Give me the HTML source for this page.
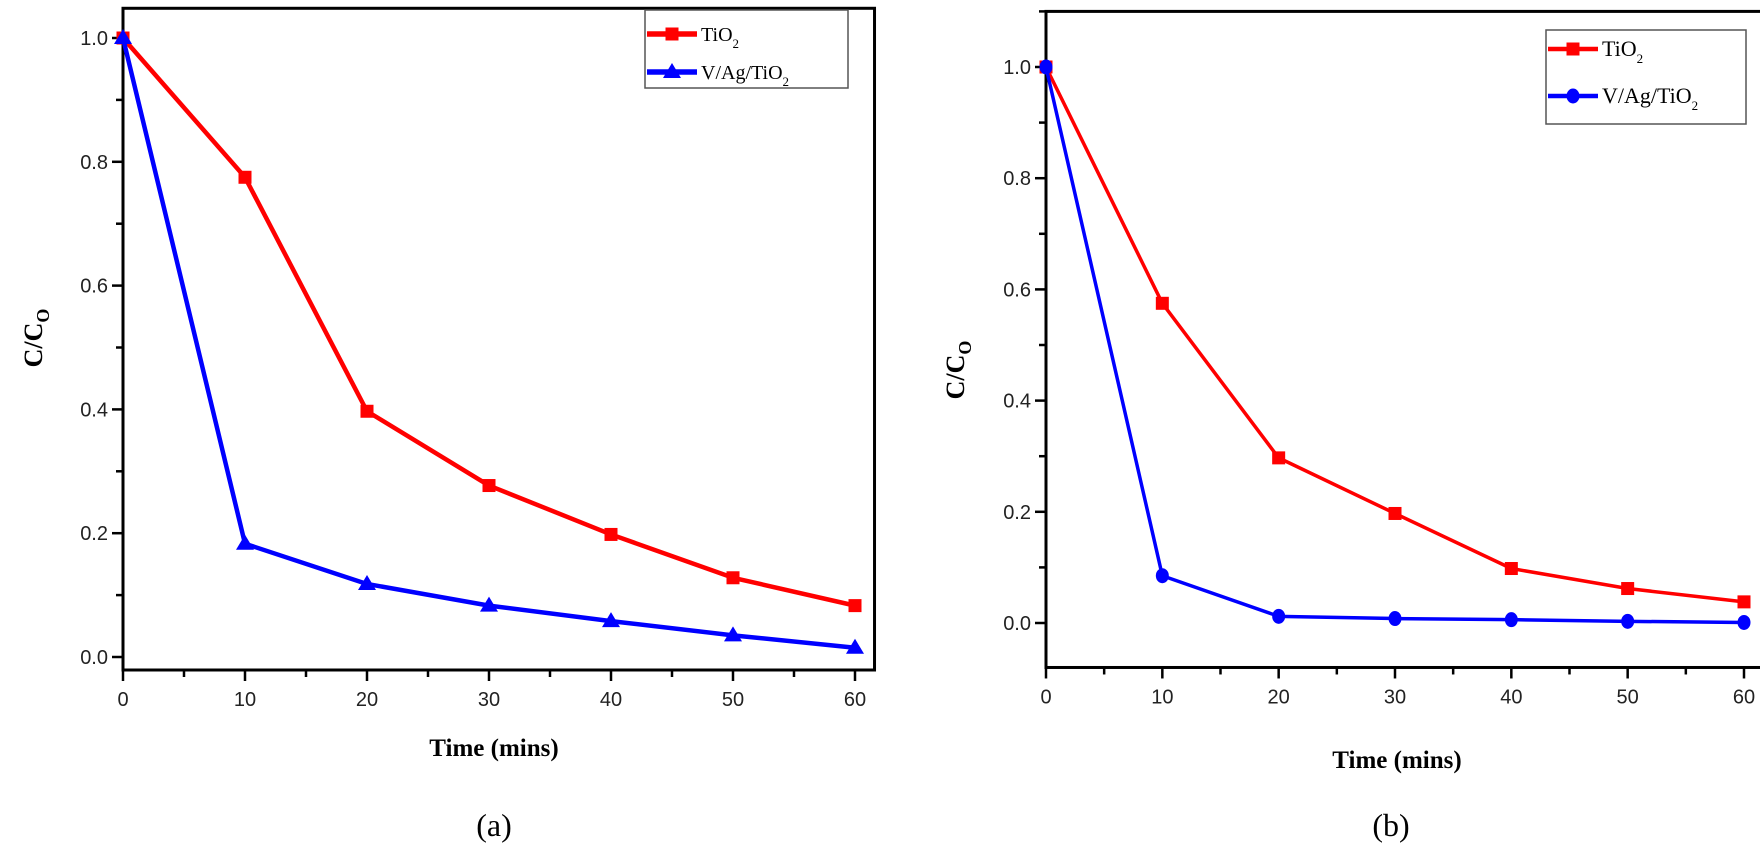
<!DOCTYPE html>
<html><head><meta charset="utf-8"><style>
html,body{margin:0;padding:0;background:#fff;}
svg{display:block;}
.sans{font-family:"Liberation Sans",sans-serif;}
.serif{font-family:"Liberation Serif",serif;}
</style></head><body>
<svg id="fig" width="1760" height="861" viewBox="0 0 1760 861" xmlns="http://www.w3.org/2000/svg"></svg>
<script>
const times = [0,10,20,30,40,50,60];
const aTiO2 = [1.0,0.775,0.397,0.277,0.198,0.128,0.083];
const aVAg = [1.0,0.183,0.118,0.083,0.058,0.035,0.015];
const bTiO2 = [1.0,0.575,0.297,0.197,0.098,0.062,0.038];
const bVAg = [1.0,0.085,0.012,0.008,0.006,0.003,0.001];
const xTickLabels = ["0","10","20","30","40","50","60"];
const yTickLabels = ["0.0","0.2","0.4","0.6","0.8","1.0"];

const NS="http://www.w3.org/2000/svg";
const svg=document.getElementById('fig');
function mk(tag,attrs,parent){const e=document.createElementNS(NS,tag);for(const k in attrs)e.setAttribute(k,attrs[k]);(parent||svg).appendChild(e);return e;}

function panel(cfg){
  const g=mk('g',{});
  
  
  const sx=v=>cfg.x0+(v-0)*(cfg.x60-cfg.x0)/60;
  const sy=v=>cfg.y0+(v-0)*(cfg.y1-cfg.y0)/1;
  const L=sx(0), R=sx(cfg.xmax), T=sy(cfg.ymax), B=sy(cfg.ymin);
  const frame=mk('rect',{x:L,y:T,width:R-L,height:B-T,fill:'none',stroke:'#000','stroke-width':3},g);
  
  
  for(let i=0;i<=12;i++){
    const v=i*5, x=sx(v);
    mk('line',{x1:x,y1:B,x2:x,y2:B+(i%2?7:11),stroke:'#000','stroke-width':2.5},g);
  }
  xTickLabels.forEach((lab,i)=>{
    const t=mk('text',{x:sx(times[i]),y:B+36,'font-size':20,'text-anchor':'middle',fill:'#222',class:'sans'},g);
    t.textContent=lab;
    
    
  });
  for(let v=Math.ceil(cfg.ymin*10);v<=Math.floor(cfg.ymax*10);v++){
    const y=sy(v/10);
    mk('line',{x1:L,y1:y,x2:L-(v%2?7:11),y2:y,stroke:'#000','stroke-width':2.5},g);
  }
  yTickLabels.forEach((lab)=>{
    const t=mk('text',{x:L-15,y:sy(parseFloat(lab))+7,'font-size':20,'text-anchor':'end',fill:'#222',class:'sans'},g);
    t.textContent=lab;
    
    
  });
  const yt=mk('text',{x:0,y:0,'font-size':26,'font-weight':'bold',class:'serif','text-anchor':'middle',transform:`translate(${cfg.ytX},${cfg.ytY}) rotate(-90)`},g);
  yt.innerHTML='C/C<tspan font-size="18" dy="7">O</tspan>';
  
  
  const xt=mk('text',{x:cfg.xtX,y:cfg.xtY,'font-size':25,'font-weight':'bold',class:'serif','text-anchor':'middle'},g);
  xt.textContent='Time (mins)';
  
  
  const cap=mk('text',{x:cfg.capX,y:836,'font-size':32,class:'serif','text-anchor':'middle'},g);
  cap.textContent=cfg.cap;
  
  
  function series(vals,color,marker,nm){
    const sg=mk('g',{},g);
    
    
    const pts=vals.map((v,i)=>sx(times[i])+','+sy(v)).join(' ');
    mk('polyline',{points:pts,fill:'none',stroke:color,'stroke-width':cfg.lw,'stroke-linejoin':'round'},sg);
    vals.forEach((v,i)=>{
      const m=drawMarker(sg,marker,sx(times[i]),sy(v),color);
      
      
    });
  }
  function drawMarker(p,type,x,y,c){
    if(type==='sq') return mk('rect',{x:x-6.5,y:y-6.5,width:13,height:13,fill:c},p);
    if(type==='tri') return mk('polygon',{points:`${x},${y-9} ${x-9},${y+6} ${x+9},${y+6}`,fill:c},p);
    return mk('ellipse',{cx:x,cy:y,rx:6.5,ry:7.5,fill:c},p);
  }
  series(cfg.red,'#ff0000','sq','series-tio2');
  series(cfg.blue,'#0000ff',cfg.bm,'series-v-ag-tio2');
  const lg=mk('g',{},g);
  
  
  mk('rect',{x:cfg.lx,y:cfg.ly,width:cfg.lw2,height:cfg.lh,fill:'#fff',stroke:'#555','stroke-width':1.5},lg);
  [[cfg.red,'#ff0000','sq','TiO'],[cfg.blue,'#0000ff',cfg.bm,'V/Ag/TiO']].forEach((e,k)=>{
    const y=cfg.ly+cfg.le[k];
    const eg=mk('g',{},lg);
    
    
    mk('line',{x1:cfg.lx+2,y1:y,x2:cfg.lx+52,y2:y,stroke:e[1],'stroke-width':cfg.lw+1},eg);
    drawMarker(eg,e[2],cfg.lx+27,y,e[1]);
    const t=mk('text',{x:cfg.lx+56,y:y+7,'font-size':cfg.lfs,class:'serif'},eg);
    t.innerHTML=e[3]+'<tspan font-size="13" dy="7">2</tspan>';
  });
}

panel({name:'chart-a',x0:123,x60:855,y0:657,y1:38,xmax:61.6,ymin:-0.021,ymax:1.048,
  red:aTiO2,blue:aVAg,bm:'tri',lw:4.5,ytX:42,ytY:338,xtX:494,xtY:756,capX:494,cap:'(a)',
  lx:645,ly:10,lw2:203,lh:78,le:[24,62],lfs:20});
panel({name:'chart-b',x0:1046,x60:1744,y0:623,y1:67,xmax:61.8,ymin:-0.08,ymax:1.1,
  red:bTiO2,blue:bVAg,bm:'circ',lw:3.5,ytX:964,ytY:370,xtX:1397,xtY:768,capX:1391,cap:'(b)',
  lx:1546,ly:30,lw2:200,lh:94,le:[19,66],lfs:22});
</script>
</body></html>
